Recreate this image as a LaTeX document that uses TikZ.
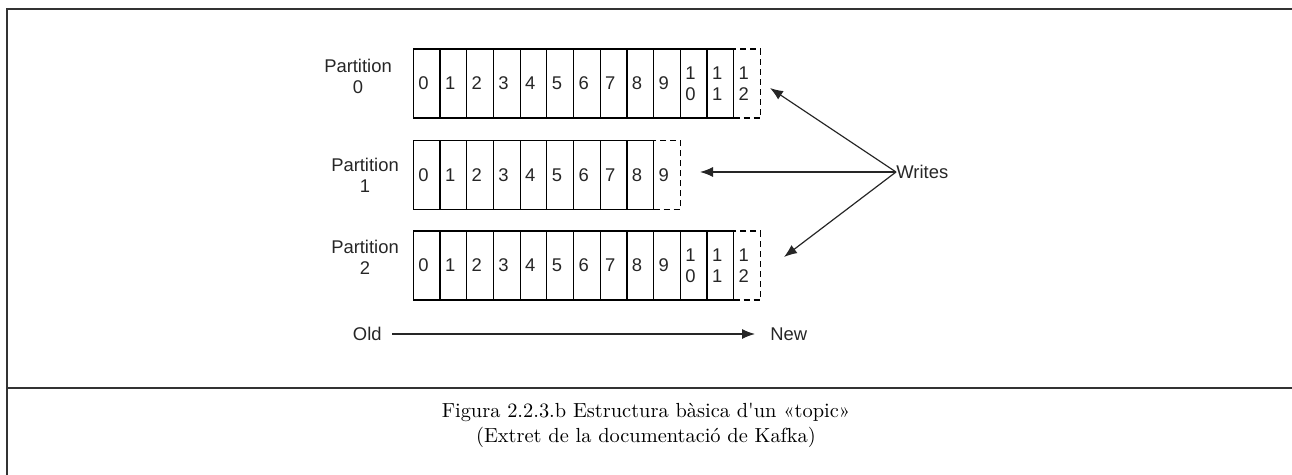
\documentclass[tikz,border=0pt]{standalone}
\usepackage{fontspec}
\setmainfont{Latin Modern Roman}
\newfontfamily\diagfont{Liberation Sans}
\usetikzlibrary{arrows.meta}

\tikzset{
  frameline/.style={draw=black!80, line width=1pt},
  cellbox/.style={draw=black, line width=0.6pt, minimum height=34.5pt,
    text width=8.35pt, inner xsep=2.5pt, inner ysep=0pt, outer sep=0pt,
    align=left, font=\diagfont\fontsize{9.2}{10.5}\selectfont, text=black!85},
  newcell/.style={cellbox, dash pattern=on 3pt off 2pt},
  plabel/.style={align=center, inner sep=0pt,
    font=\diagfont\fontsize{9.2}{10.5}\selectfont, text=black!85},
  wlabel/.style={inner sep=0pt, font=\diagfont\fontsize{9.2}{10.5}\selectfont, text=black!85},
  writearrow/.style={draw=black!85, line width=0.6pt,
    -{Latex[length=6.5pt,width=5pt]}},
  caption/.style={align=center, inner sep=0pt,
    font=\fontsize{10.2}{12.5}\selectfont}
}

% one partition log: #1 name, #2 y centre, #3 number of written cells
\newcommand{\partitionlog}[3]{%
  \pgfmathtruncatemacro{\lastcell}{#3}
  \node[newcell, anchor=west] (#1c\lastcell) at ({413.3+26.7*#3}, #2)
    {\ifnum\lastcell>9 \expandafter\splitdigits\lastcell\relax\else\lastcell\fi};
  \pgfmathtruncatemacro{\upto}{#3-1}
  \foreach \k in {0,...,\upto}{
    \node[cellbox, anchor=west] (#1c\k) at ({413.3+26.7*\k}, #2)
      {\ifnum\k>9 \expandafter\splitdigits\k\relax\else\k\fi};
  }
}
\def\splitdigits#1#2\relax{#1\\#2}

\begin{document}
\begin{tikzpicture}[x=0.5pt, y=-0.5pt]
  \useasboundingbox (0,0) rectangle (1292,475);

  % outer frame and caption separator
  \draw[frameline] (7,475) -- (7,9) -- (1292,9);
  \draw[frameline] (7,388) -- (1292,388);

  % partition logs
  \partitionlog{pa}{83.5}{12}
  \partitionlog{pb}{175}{9}
  \partitionlog{pc}{265.5}{12}

  \node[plabel] (la) at (358,76.5) {Partition\\0};
  \node[plabel] (lb) at (365,175) {Partition\\1};
  \node[plabel] (lc) at (365,257) {Partition\\2};

  % writer and its targets
  \node[wlabel, anchor=west] (writes) at (896,172) {Writes};
  \coordinate (ta) at (770,88);
  \coordinate (tb) at (700,172);
  \coordinate (tc) at (784,257);
  \draw[writearrow] (writes.west) -- (ta);
  \draw[writearrow] (writes.west) -- (tb);
  \draw[writearrow] (writes.west) -- (tc);

  % time direction
  \node[wlabel, anchor=east] (old) at (382,334) {Old};
  \node[wlabel, anchor=west] (new) at (770,334) {New};
  \draw[writearrow, shorten <=5pt, shorten >=7.5pt] (old.east) -- (new.west);

  % caption
  \node[caption] (cap) at (646,425.5)
    {Figura 2.2.3.b Estructura bàsica d\textquotesingle un «topic»\\(Extret de la documentació de Kafka)};
\end{tikzpicture}
\end{document}
